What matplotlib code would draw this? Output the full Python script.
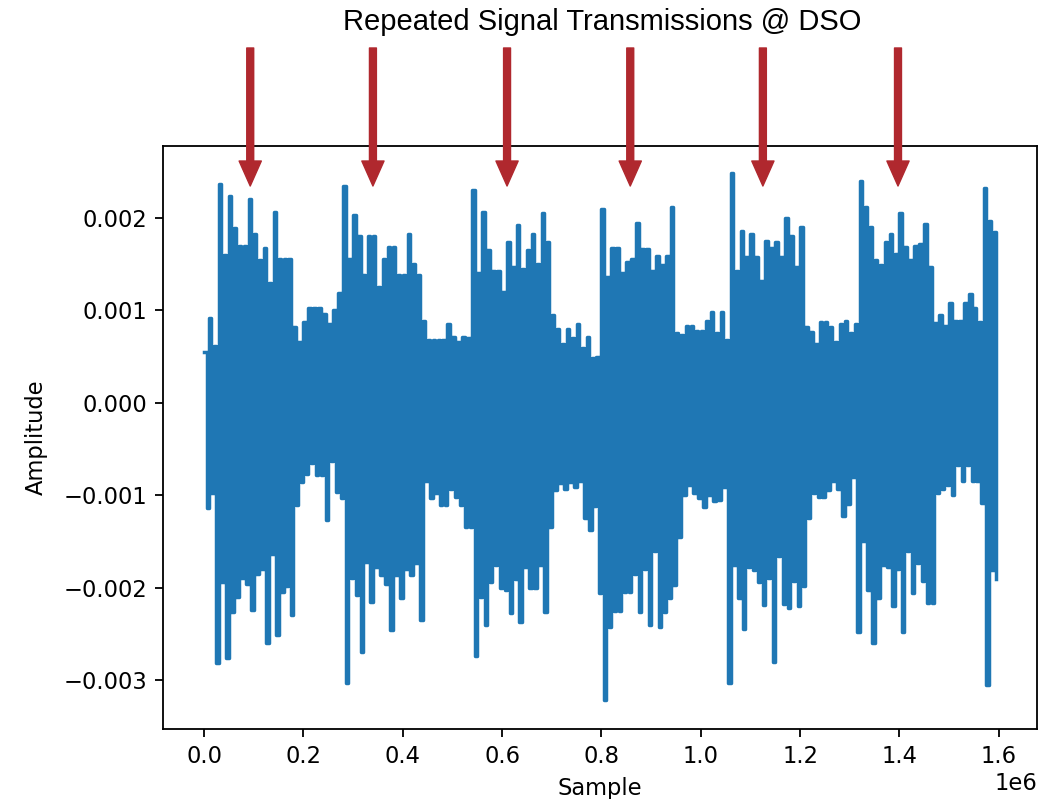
import numpy as np
import matplotlib.pyplot as plt

# Captured DSO trace, reduced to a max/min pair per 10k-sample bin (values in 1e-3)
upper_peak = [
    0.55, 0.92, 0.62, 2.37, 1.60, 2.24, 1.89, 1.70, 1.70, 2.20,
    1.83, 1.54, 1.67, 1.30, 2.06, 1.55, 1.55, 1.55, 0.82, 0.66,
    0.87, 1.03, 1.03, 1.03, 0.96, 0.85, 1.00, 1.19, 2.35, 1.56,
    2.03, 1.80, 1.38, 1.80, 1.80, 1.25, 1.56, 1.68, 1.68, 1.38,
    1.38, 1.83, 1.50, 1.38, 0.89, 0.68, 0.68, 0.68, 0.68, 0.85,
    0.71, 0.66, 0.71, 0.70, 2.30, 1.40, 2.06, 1.65, 1.43, 1.43,
    1.20, 1.74, 1.47, 1.92, 1.45, 1.65, 1.83, 1.50, 2.05, 1.74,
    0.95, 0.80, 0.64, 0.80, 0.70, 0.85, 0.59, 0.71, 0.48, 0.50,
    2.10, 1.36, 1.67, 1.67, 1.40, 1.52, 1.55, 1.95, 1.66, 1.66,
    1.43, 1.59, 1.49, 1.59, 2.12, 0.75, 0.73, 0.83, 0.83, 0.78,
    0.78, 0.89, 0.98, 0.75, 0.98, 0.68, 2.49, 1.43, 1.86, 1.58,
    1.83, 1.58, 1.32, 1.75, 1.67, 1.74, 1.58, 2.00, 1.80, 1.47,
    1.90, 0.82, 0.77, 0.64, 0.87, 0.87, 0.82, 0.66, 0.85, 0.89,
    0.75, 0.85, 2.40, 2.12, 1.90, 1.54, 1.49, 1.74, 1.83, 1.61,
    2.05, 1.69, 1.54, 1.70, 1.72, 1.93, 1.47, 0.86, 0.95, 0.83,
    1.08, 0.89, 0.89, 1.08, 1.18, 1.03, 0.87, 2.32, 1.97, 1.85,
]
lower_peak = [
    -1.14, -0.98, -2.81, -1.94, -2.76, -2.26, -2.10, -1.89, -1.96, -2.24,
    -1.85, -1.80, -2.60, -1.63, -2.51, -2.05, -1.98, -2.29, -1.10, -0.86,
    -0.77, -0.65, -0.78, -0.78, -1.27, -0.63, -0.96, -1.03, -3.03, -1.89,
    -2.08, -2.69, -1.72, -2.15, -1.77, -1.86, -1.96, -2.46, -1.86, -2.11,
    -1.80, -1.86, -1.73, -2.35, -0.84, -1.03, -0.98, -1.10, -1.10, -0.93,
    -1.02, -1.10, -1.34, -1.34, -2.74, -2.10, -2.40, -1.94, -1.75, -2.00,
    -2.02, -2.27, -1.90, -2.37, -1.78, -2.00, -2.00, -1.75, -2.26, -1.34,
    -0.94, -0.87, -0.93, -0.86, -0.91, -0.84, -1.24, -1.38, -1.12, -2.06,
    -3.21, -2.42, -2.25, -2.25, -2.04, -2.04, -1.85, -2.26, -1.80, -2.40,
    -1.60, -2.42, -2.26, -2.11, -1.97, -1.45, -1.00, -0.89, -0.98, -1.03,
    -1.13, -1.00, -1.06, -1.05, -0.91, -3.03, -1.75, -2.11, -2.44, -1.78,
    -1.81, -1.94, -2.19, -1.89, -2.80, -1.66, -2.17, -2.22, -1.93, -2.20,
    -1.98, -1.25, -0.98, -1.02, -1.02, -0.94, -0.84, -0.93, -1.22, -1.09,
    -0.80, -2.48, -1.49, -2.02, -2.60, -2.11, -1.75, -1.78, -2.20, -1.80,
    -2.48, -1.60, -2.06, -1.73, -1.93, -2.16, -2.16, -0.98, -0.93, -0.89,
    -1.00, -0.67, -0.84, -0.67, -0.84, -0.84, -1.08, -3.05, -1.81, -1.90,
]
bin_width = 10000

# centres of the repeated transmissions, marked with arrows
burst_centres = [0.093e6, 0.340e6, 0.610e6, 0.858e6, 1.125e6, 1.397e6]

title_text = "Repeated Signal Transmissions @ DSO"

hi = np.array(upper_peak) * 1e-3
lo = np.array(lower_peak) * 1e-3
start = np.arange(len(hi)) * bin_width

# alternate max/min within each bin so the trace draws as a dense waveform
x = np.column_stack([start, start + bin_width / 2]).ravel()
y = np.column_stack([hi, lo]).ravel()

s = 1.63
plt.rcParams.update({
    "font.size": 10 * s,
    "axes.linewidth": 0.8 * s,
    "xtick.major.size": 3.5 * s,
    "ytick.major.size": 3.5 * s,
    "xtick.major.width": 0.8 * s,
    "ytick.major.width": 0.8 * s,
    "xtick.major.pad": 3.5 * s,
    "ytick.major.pad": 3.5 * s,
    "axes.labelpad": 4 * s,
})

fig = plt.figure(figsize=(10.56, 7.99), dpi=100)
ax = fig.add_axes([0.1544, 0.0872, 0.8277, 0.7304])

ax.plot(x, y, color="#1f77b4", lw=2.5, drawstyle="steps-post")
ax.set_xlim(-0.0825e6, 1.677e6)
ax.set_ylim(-3.53e-3, 2.78e-3)
ax.set_xlabel("Sample")
ax.set_ylabel("Amplitude", labelpad=11)

for xc in burst_centres:
    ax.annotate(
        "", xy=(xc, 0.931), xytext=(xc, 1.1675),
        xycoords=ax.get_xaxis_transform(),
        arrowprops=dict(
            arrowstyle="simple,head_length=18,head_width=16,tail_width=5",
            mutation_scale=1, color="#b0282e", shrinkA=0, shrinkB=0,
        ),
        annotation_clip=False,
    )

fig.text(0.570, 0.972, title_text, ha="center", va="center",
         fontsize=21, family="Liberation Sans")

fig.savefig("out.png", dpi=100)
